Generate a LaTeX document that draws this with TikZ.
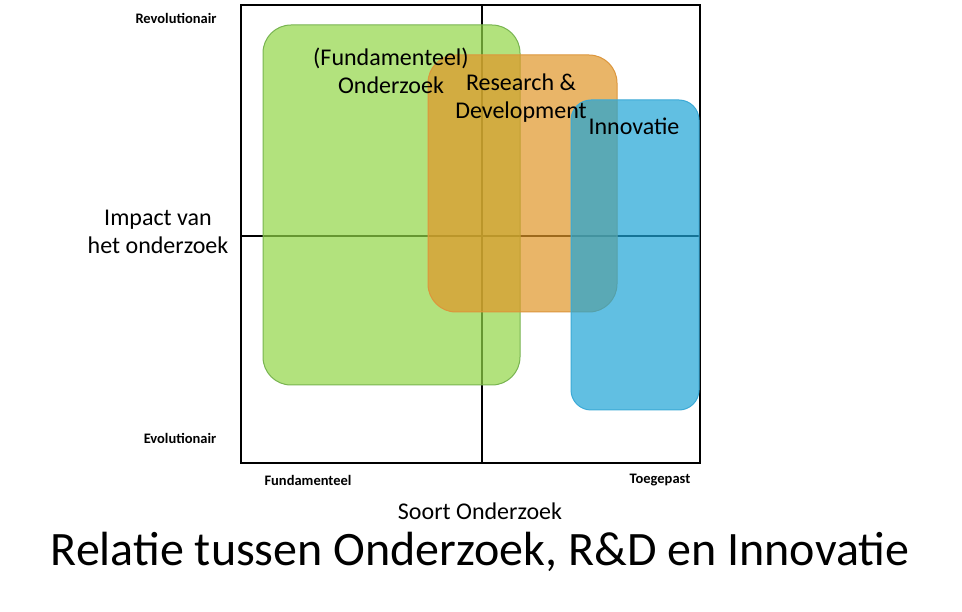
\documentclass[tikz,border=0pt]{standalone}
\usepackage{fontspec}
\setmainfont{Carlito}
\begin{document}
\begin{tikzpicture}[x=1pt,y=-1pt,
  ax/.style={font=\fontsize{14.5}{17}\selectfont\bfseries},
  lab/.style={font=\fontsize{24}{28}\selectfont,align=center},
  blk/.style={rounded corners=28pt,line width=1pt}]
\useasboundingbox (0,0) rectangle (962,612);
\fill[white] (0,0) rectangle (962,612);
\draw[line width=1.5pt] (241,5) rectangle (700,463);
\draw[line width=1.5pt] (482,5) -- (482,463);
\draw[line width=1.5pt] (241,236) -- (700,236);
\draw[blk,draw={rgb,255:red,120;green,180;blue,80},fill={rgb,255:red,146;green,214;blue,70},fill opacity=0.7] (263,25) rectangle (520,385);
\draw[blk,draw={rgb,255:red,220;green,150;blue,60},fill={rgb,255:red,224;green,150;blue,40},fill opacity=0.7] (428,55) rectangle (617,312);
\draw[blk,rounded corners=20pt,draw={rgb,255:red,60;green,170;blue,215},fill={rgb,255:red,30;green,165;blue,215},fill opacity=0.7] (571,100) rectangle (699,410);
\node[lab] (fo) at (391,71) {(Fundamenteel)\\Onderzoek};
\node[lab] (rd) at (521,98) {Research \&\\Development};
\node[lab] (in) at (634,126) {Innovatie};
\node[ax] (rev) at (176,18) {Revolutionair};
\node[ax] (evo) at (180,438) {Evolutionair};
\node[ax] (fun) at (308,480) {Fundamenteel};
\node[ax] (toe) at (660,480) {Toegepast};
\node[lab] (imp) at (158,232) {Impact van\\het onderzoek};
\node[font=\fontsize{24}{28}\selectfont] (so) at (480,511) {Soort Onderzoek};
\node[font=\fontsize{48}{52}\selectfont] (ti) at (480,552) {Relatie tussen Onderzoek, R\&D en Innovatie};
\end{tikzpicture}
\end{document}
